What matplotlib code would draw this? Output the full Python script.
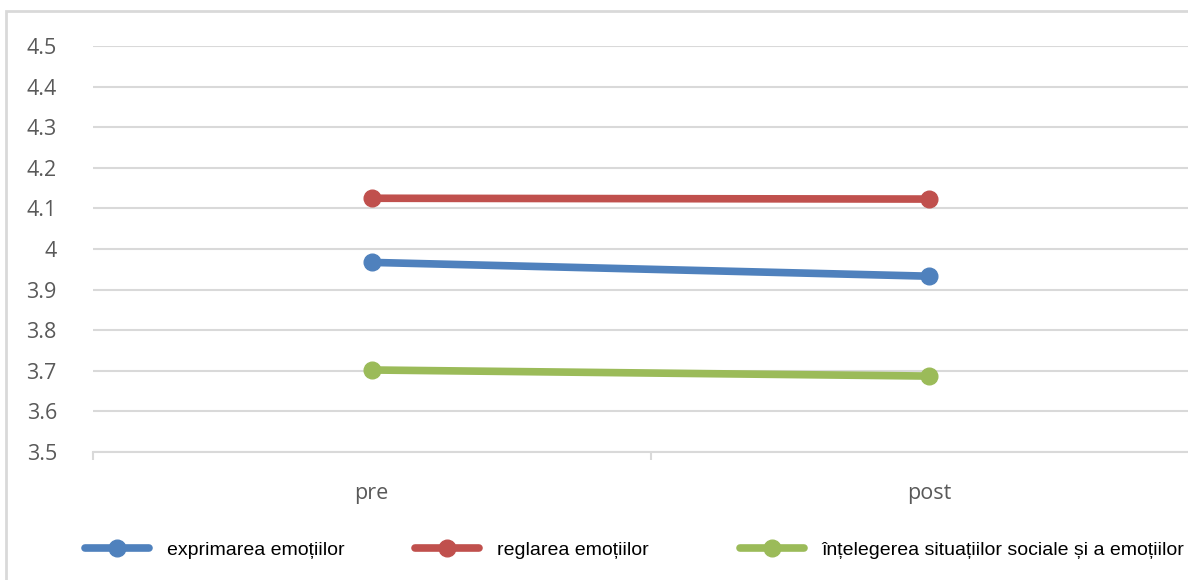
import matplotlib
matplotlib.use("Agg")
import matplotlib.pyplot as plt
from matplotlib.patches import Rectangle

# data
categories = ["pre", "post"]
expr_vals = [3.967, 3.933]
regl_vals = [4.125, 4.123]
int_vals = [3.702, 3.687]
series_names = [
    "exprimarea emoțiilor",
    "reglarea emoțiilor",
    "înțelegerea situațiilor sociale și a emoțiilor",
]
y_ticks = [3.5, 3.6, 3.7, 3.8, 3.9, 4.0, 4.1, 4.2, 4.3, 4.4, 4.5]
y_labels = ["3.5", "3.6", "3.7", "3.8", "3.9", "4", "4.1", "4.2", "4.3", "4.4", "4.5"]

COLORS = ["#4f81bd", "#c0504d", "#9bbb59"]
GRID = "#d9d9d9"
TEXT = "#595959"

W, H = 1188, 580
fig = plt.figure(figsize=(W / 100, H / 100), dpi=100)

# outer chart frame (right/bottom run off the image)
fig.patches.append(Rectangle((6 / W, -0.1), 1.2, 1 - 11 / H + 0.1,
                             transform=fig.transFigure, fill=False,
                             edgecolor=GRID, linewidth=2))

# axes extend past the right edge, as in the cropped reference
ax = fig.add_axes([93 / W, 1 - 452 / H, (1208 - 93) / W, (452 - 46) / H])

x = range(len(categories))
handles = []
for vals, col, name in zip([expr_vals, regl_vals, int_vals], COLORS, series_names):
    ln, = ax.plot(x, vals, color=col, linewidth=5.5, marker="o", markersize=12,
                  solid_capstyle="round", label=name, zorder=3)
    handles.append(ln)

ax.set_xlim(-0.5, 1.5)
ax.set_ylim(3.5, 4.5)
ax.set_yticks(y_ticks)
ax.set_yticklabels(y_labels)
ax.set_xticks(list(x))
ax.set_xticklabels(categories)
ax.set_xticks([-0.5, 0.5, 1.5], minor=True)
ax.yaxis.grid(True, color=GRID, linewidth=1.5)
ax.set_axisbelow(True)

for s in ["top", "right", "left"]:
    ax.spines[s].set_visible(False)
ax.spines["bottom"].set_color(GRID)
ax.spines["bottom"].set_linewidth(1.5)

ax.tick_params(axis="y", length=0, pad=26, labelsize=15.5, labelcolor=TEXT)
ax.tick_params(axis="x", which="major", length=0, pad=22, labelsize=15.5, labelcolor=TEXT)
ax.tick_params(axis="x", which="minor", length=6, width=1.5, color=GRID, direction="out")
for lab in ax.get_xticklabels() + ax.get_yticklabels():
    lab.set_family(["Open Sans", "DejaVu Sans"])

# legend entries sit in equal-width slots along the bottom
leg_x = [85, 415, 740]
for h, lx in zip(handles, leg_x):
    lg = fig.legend([h], [h.get_label()], loc="center left",
                    bbox_to_anchor=(lx / W, 1 - 550 / H), frameon=False,
                    borderpad=0, borderaxespad=0, handlelength=3.3,
                    handletextpad=0.9, markerscale=1.0,
                    prop={"family": ["Liberation Sans", "DejaVu Sans"], "size": 14})

fig.savefig("out.png", dpi=100)
